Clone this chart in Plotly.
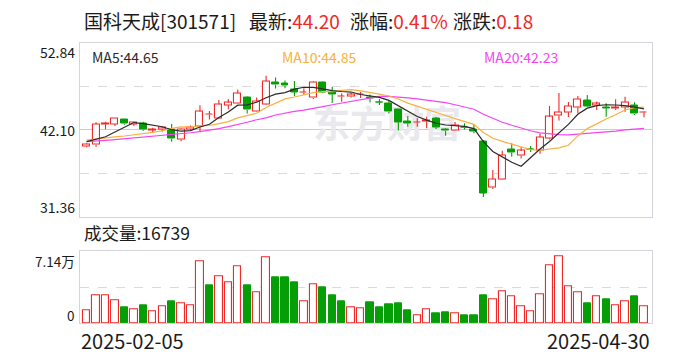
import plotly.graph_objects as go
import pandas as pd
import numpy as np

# ---------------- data ----------------
dates = pd.bdate_range("2025-02-05", "2025-04-30").drop(pd.Timestamp("2025-04-04"))
date_labels = [dates[0].strftime("%Y-%m-%d"), dates[-1].strftime("%Y-%m-%d")]

opens = [40.03, 40.22, 42.76, 42.74, 43.36, 42.74, 42.87, 42.03, 42.12, 42.04,
         40.87, 42.12, 42.41, 43.93, 43.46, 45.09, 45.33, 46.09, 44.32, 45.19,
         47.94, 47.84, 47.04, 46.68, 45.99, 47.96, 46.69, 46.15, 46.17, 46.38,
         46.03, 45.48, 45.29, 44.51, 43.03, 42.91, 43.13, 43.50, 42.16, 41.95,
         42.40, 42.16, 40.56, 34.94, 35.93, 39.57, 38.89, 39.65, 39.45, 40.99,
         43.83, 44.22, 44.84, 45.64, 45.03, 44.77, 44.69, 44.84, 45.10, 44.16]
closes = [40.27, 42.74, 42.80, 43.48, 42.82, 42.94, 42.05, 42.08, 42.32, 40.96,
          42.12, 42.32, 44.32, 43.98, 45.22, 45.41, 46.58, 44.54, 45.56, 48.05,
          47.62, 47.51, 46.69, 46.72, 47.94, 46.67, 46.42, 46.19, 46.40, 46.44,
          45.87, 45.44, 44.30, 43.00, 42.87, 42.95, 43.17, 42.35, 41.95, 42.56,
          42.35, 41.85, 34.25, 35.95, 38.95, 39.26, 39.45, 39.61, 41.15, 43.65,
          44.22, 45.00, 45.85, 44.95, 45.25, 44.73, 44.85, 45.45, 44.02, 44.20]
highs = [40.40, 42.99, 43.06, 43.48, 43.36, 43.06, 43.06, 42.32, 42.47, 42.78,
         42.22, 42.59, 45.09, 44.38, 45.74, 45.87, 47.04, 46.17, 46.05, 48.73,
         48.52, 48.15, 48.09, 47.19, 48.03, 48.03, 47.35, 46.57, 46.61, 46.73,
         46.42, 45.87, 45.68, 44.57, 43.77, 43.48, 43.68, 43.64, 42.22, 43.03,
         42.87, 42.66, 40.80, 37.10, 39.47, 40.40, 39.98, 40.06, 41.61, 45.00,
         46.61, 45.50, 46.24, 46.36, 45.56, 45.33, 45.83, 46.15, 45.46, 44.30]
lows = [39.90, 39.98, 42.12, 42.53, 42.69, 42.53, 41.95, 41.67, 41.83, 40.59,
        40.64, 42.04, 41.83, 43.33, 43.40, 44.59, 45.31, 44.08, 44.30, 45.12,
        47.16, 47.19, 46.24, 46.36, 45.87, 46.57, 45.37, 45.53, 46.05, 45.99,
        45.43, 45.12, 44.08, 41.98, 42.45, 42.45, 42.25, 42.16, 41.33, 41.91,
        42.10, 41.63, 33.77, 34.75, 35.91, 38.74, 38.52, 39.32, 39.11, 40.87,
        43.21, 43.64, 44.10, 45.00, 44.51, 43.68, 44.51, 44.30, 43.90, 43.61]
volumes = [12600, 27400, 27400, 22500, 15900, 13600, 17900, 11600, 16500, 21800,
           19500, 17500, 61200, 37700, 46600, 40300, 56500, 37700, 30400, 65400,
           45600, 45600, 40700, 21500, 38300, 35700, 27800, 21800, 15500, 14500,
           20800, 15900, 18800, 19800, 12900, 7600, 13600, 9900, 10900, 9600,
           7600, 7600, 27800, 23500, 31400, 26400, 16500, 11900, 28400, 57200,
           66700, 36500, 30500, 19900, 26600, 23900, 17600, 21600, 26900, 16739]

# moving-average values before each window is full
ma5_head = [40.6, 40.9, 41.2, 41.8]
ma10_head = [40.8, 40.95, 41.1, 41.2, 41.3, 41.42, 41.6, 41.75, 41.95]
ma20_head = [40.6, 40.65, 40.75, 40.85, 40.95, 41.05, 41.15, 41.25, 41.35, 41.45,
             41.6, 41.7, 41.85, 42.0, 42.2, 42.45, 42.7, 43.0, 43.3]

price_ticks = ["52.84", "42.10", "31.36"]
vol_ticks = ["7.14万", "0"]
ma_labels = ["MA5:44.65", "MA10:44.85", "MA20:42.23"]
title_parts = [("国科天成[301571]", None), ("最新:", "44.20"), ("涨幅:", "0.41%"), ("涨跌:", "0.18")]
volume_label = "成交量:16739"

# ---------------- derived ----------------
o = np.array(opens); c = np.array(closes); h = np.array(highs); l = np.array(lows)
v = np.array(volumes, dtype=float)
n = len(c)
idx = np.arange(n)
cs = pd.Series(c)
ma5 = cs.rolling(5).mean().to_numpy(); ma5[:4] = ma5_head
ma10 = cs.rolling(10).mean().to_numpy(); ma10[:9] = ma10_head
ma20 = cs.rolling(20).mean().to_numpy(); ma20[:19] = ma20_head

RED = "#f02828"
GREEN = "#069e06"
FRAME = "#d4d4dc"
GRID = "#dadada"
MA5C = "#2b2b2b"
MA10C = "#f8b13c"
MA20C = "#f444f4"
FONT = "Noto Sans CJK SC, Noto Sans, sans-serif"
TXT = "#1a1a1a"

W, H = 688, 360
def py(y):
    return 1 - y / H
def px(x):
    return x / W

pmax = float(price_ticks[0]); pmin = float(price_ticks[2]); pmid = float(price_ticks[1])
vmax = float(vol_ticks[0].replace("万", "")) * 10000

fig = go.Figure()

inc = c >= o
lo = np.minimum(o, c); hi_b = np.maximum(o, c)
bh = np.maximum(hi_b - lo, 0.035)

# candle bodies
fig.add_trace(go.Bar(x=idx[inc], y=bh[inc], base=lo[inc], width=0.74,
                     marker=dict(color="white", line=dict(color=RED, width=1.1)),
                     xaxis="x", yaxis="y", hoverinfo="skip"))
fig.add_trace(go.Bar(x=idx[~inc], y=bh[~inc], base=lo[~inc], width=0.74,
                     marker=dict(color=GREEN, line=dict(color=GREEN, width=1)),
                     xaxis="x", yaxis="y", hoverinfo="skip"))

def wicks(mask):
    xs, ys = [], []
    for i in idx[mask]:
        xs += [i, i, None, i, i, None]
        ys += [h[i], hi_b[i], None, lo[i], l[i], None]
    return xs, ys

for mask, col in [(inc, RED), (~inc, GREEN)]:
    xs, ys = wicks(mask)
    fig.add_trace(go.Scatter(x=xs, y=ys, mode="lines", line=dict(color=col, width=1.1),
                             xaxis="x", yaxis="y", hoverinfo="skip"))

for ma, col in [(ma20, MA20C), (ma10, MA10C), (ma5, MA5C)]:
    fig.add_trace(go.Scatter(x=idx, y=ma, mode="lines", line=dict(color=col, width=1.2),
                             xaxis="x", yaxis="y", hoverinfo="skip"))

# volume
prev = np.concatenate([[c[0] - 1], c[:-1]])
vup = c >= prev
fig.add_trace(go.Bar(x=idx[vup], y=v[vup], width=0.78,
                     marker=dict(color="white", line=dict(color=RED, width=1.1)),
                     xaxis="x2", yaxis="y2", hoverinfo="skip"))
fig.add_trace(go.Bar(x=idx[~vup], y=v[~vup], width=0.78,
                     marker=dict(color=GREEN, line=dict(color=GREEN, width=1)),
                     xaxis="x2", yaxis="y2", hoverinfo="skip"))

xr = [-0.7, n - 0.15]
dom = [px(80), px(652)]
axis_common = dict(showline=True, mirror=True, linecolor=FRAME, linewidth=1,
                   zeroline=False, ticks="", showticklabels=False)

fig.update_layout(
    width=W, height=H, autosize=False,
    margin=dict(l=0, r=0, t=0, b=0),
    paper_bgcolor="white", plot_bgcolor="white",
    showlegend=False, barmode="overlay", bargap=0,
    xaxis=dict(domain=dom, range=xr, anchor="y", showgrid=False, **axis_common),
    yaxis=dict(domain=[py(216.5), py(42.5)], range=[pmin, pmax], anchor="x",
               tickvals=[(pmin + pmid) / 2, (pmax + pmid) / 2], showgrid=True,
               gridcolor=GRID, griddash="dash", gridwidth=1, **axis_common),
    xaxis2=dict(domain=dom, range=xr, anchor="y2", showgrid=False, **axis_common),
    yaxis2=dict(domain=[py(323), py(251.3)], range=[0, vmax], anchor="x2",
                tickvals=[vmax / 2], showgrid=True, gridcolor=GRID, griddash="dash",
                gridwidth=1, **axis_common),
)

shapes = [
    dict(type="line", xref="x domain", yref="y", x0=0, x1=1, y0=pmid, y1=pmid,
         line=dict(color="#cccccc", width=1.2), layer="below"),
    dict(type="rect", xref="paper", yref="paper", x0=px(312), x1=px(462),
         y0=py(150), y1=py(106), line=dict(width=0), fillcolor="rgba(0,0,0,0)",
         layer="below",
         label=dict(text="<b>东方财富</b>", textposition="middle center",
                    font=dict(family=FONT, size=37, color="#e8e8ed"))),
]
fig.update_layout(shapes=shapes)

ann = []
def text(x, y, t, size, color=TXT, xanchor="left", yanchor="middle"):
    ann.append(dict(x=px(x), y=py(y), xref="paper", yref="paper", text=t, showarrow=False,
                    xanchor=xanchor, yanchor=yanchor,
                    font=dict(family=FONT, size=size, color=color)))

# title
tx = [82, 247, 348, 451]
for (lab, val), x in zip(title_parts, tx):
    t = lab if val is None else f"{lab}<span style='color:{RED}'>{val}</span>"
    text(x, 20, t, 19)

# MA labels
text(90, 57, ma_labels[0], 14, MA5C)
text(280, 57, ma_labels[1], 14, MA10C)
text(482, 57, ma_labels[2], 14, MA20C)

# price labels
text(77, 52, price_ticks[0], 14, xanchor="right")
text(77, 129.5, price_ticks[1], 14, xanchor="right")
text(77, 207, price_ticks[2], 14, xanchor="right")

# volume
text(82, 232, volume_label, 17.5)
text(77, 261, vol_ticks[0], 13.5, xanchor="right")
text(77, 315, vol_ticks[1], 13.5, xanchor="right")

# dates
text(79, 340, date_labels[0], 20)
text(652, 340, date_labels[1], 20, xanchor="right")

fig.update_layout(annotations=ann)
fig.write_html("out.html")
